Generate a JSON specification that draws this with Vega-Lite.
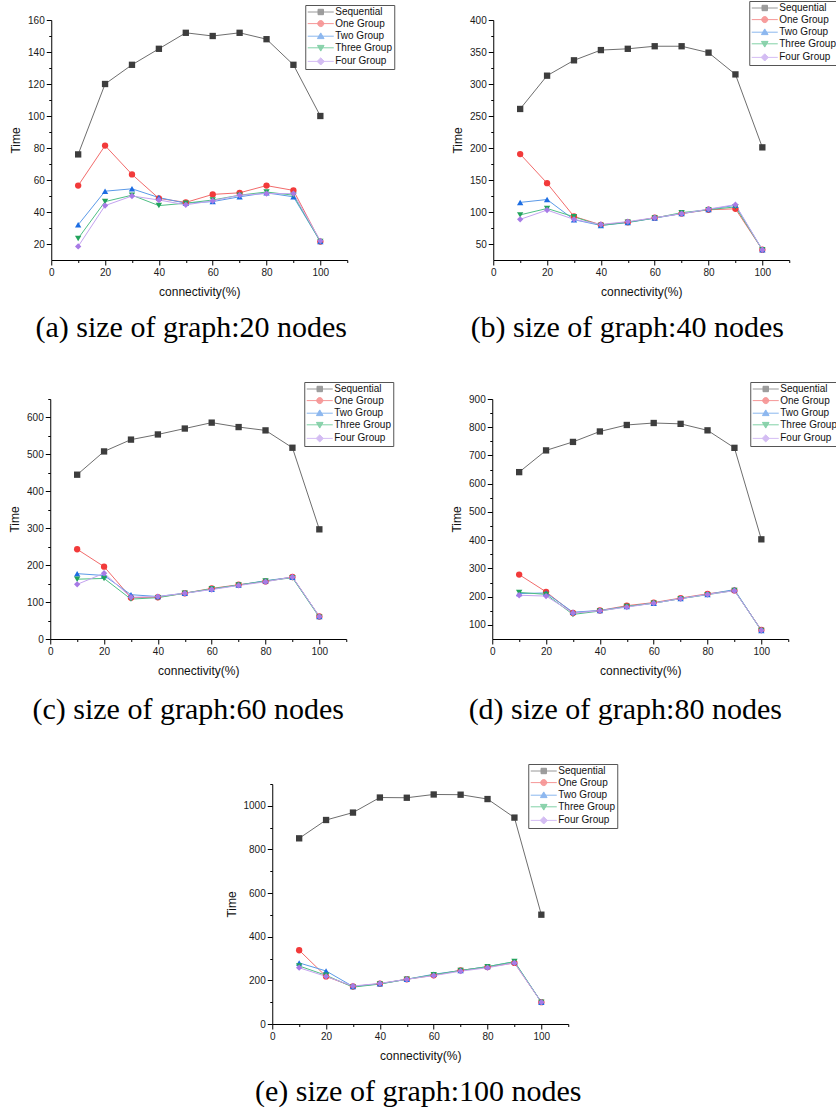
{
  "$schema": "https://vega.github.io/schema/vega-lite/v6.json",
  "padding": {"left": 8, "top": 0, "right": 0, "bottom": 0},
  "center": true,
  "spacing": 38,
  "bounds": "full",
  "datasets": {
    "a": [
      {"c":10,"t":76,"s":"Sequential"},{"c":20,"t":120,"s":"Sequential"},{"c":30,"t":132,"s":"Sequential"},{"c":40,"t":142,"s":"Sequential"},{"c":50,"t":152,"s":"Sequential"},{"c":60,"t":150,"s":"Sequential"},{"c":70,"t":152,"s":"Sequential"},{"c":80,"t":148,"s":"Sequential"},{"c":90,"t":132,"s":"Sequential"},{"c":100,"t":100,"s":"Sequential"},
      {"c":10,"t":56.5,"s":"One Group"},{"c":20,"t":81.5,"s":"One Group"},{"c":30,"t":63.5,"s":"One Group"},{"c":40,"t":48.5,"s":"One Group"},{"c":50,"t":46,"s":"One Group"},{"c":60,"t":51,"s":"One Group"},{"c":70,"t":52,"s":"One Group"},{"c":80,"t":56.5,"s":"One Group"},{"c":90,"t":53.5,"s":"One Group"},{"c":100,"t":21.5,"s":"One Group"},
      {"c":10,"t":32,"s":"Two Group"},{"c":20,"t":53,"s":"Two Group"},{"c":30,"t":54.5,"s":"Two Group"},{"c":40,"t":49,"s":"Two Group"},{"c":50,"t":45.5,"s":"Two Group"},{"c":60,"t":46.5,"s":"Two Group"},{"c":70,"t":49.5,"s":"Two Group"},{"c":80,"t":52,"s":"Two Group"},{"c":90,"t":49.5,"s":"Two Group"},{"c":100,"t":21.5,"s":"Two Group"},
      {"c":10,"t":23.5,"s":"Three Group"},{"c":20,"t":46.5,"s":"Three Group"},{"c":30,"t":50.5,"s":"Three Group"},{"c":40,"t":44,"s":"Three Group"},{"c":50,"t":45.5,"s":"Three Group"},{"c":60,"t":47.5,"s":"Three Group"},{"c":70,"t":50.5,"s":"Three Group"},{"c":80,"t":52.5,"s":"Three Group"},{"c":90,"t":50.5,"s":"Three Group"},{"c":100,"t":21.5,"s":"Three Group"},
      {"c":10,"t":18.5,"s":"Four Group"},{"c":20,"t":44,"s":"Four Group"},{"c":30,"t":50,"s":"Four Group"},{"c":40,"t":47.5,"s":"Four Group"},{"c":50,"t":44.5,"s":"Four Group"},{"c":60,"t":47,"s":"Four Group"},{"c":70,"t":50.5,"s":"Four Group"},{"c":80,"t":51.5,"s":"Four Group"},{"c":90,"t":51.5,"s":"Four Group"},{"c":100,"t":22,"s":"Four Group"}
    ],
    "b": [
      {"c":10,"t":261,"s":"Sequential"},{"c":20,"t":313,"s":"Sequential"},{"c":30,"t":337,"s":"Sequential"},{"c":40,"t":353,"s":"Sequential"},{"c":50,"t":355,"s":"Sequential"},{"c":60,"t":359,"s":"Sequential"},{"c":70,"t":359,"s":"Sequential"},{"c":80,"t":349,"s":"Sequential"},{"c":90,"t":315,"s":"Sequential"},{"c":100,"t":201,"s":"Sequential"},
      {"c":10,"t":190.5,"s":"One Group"},{"c":20,"t":145,"s":"One Group"},{"c":30,"t":93,"s":"One Group"},{"c":40,"t":80,"s":"One Group"},{"c":50,"t":84,"s":"One Group"},{"c":60,"t":91,"s":"One Group"},{"c":70,"t":97.5,"s":"One Group"},{"c":80,"t":103.5,"s":"One Group"},{"c":90,"t":105,"s":"One Group"},{"c":100,"t":41,"s":"One Group"},
      {"c":10,"t":115,"s":"Two Group"},{"c":20,"t":119.5,"s":"Two Group"},{"c":30,"t":88,"s":"Two Group"},{"c":40,"t":79,"s":"Two Group"},{"c":50,"t":83.5,"s":"Two Group"},{"c":60,"t":90.5,"s":"Two Group"},{"c":70,"t":97.5,"s":"Two Group"},{"c":80,"t":104,"s":"Two Group"},{"c":90,"t":110.5,"s":"Two Group"},{"c":100,"t":41,"s":"Two Group"},
      {"c":10,"t":95.5,"s":"Three Group"},{"c":20,"t":105.5,"s":"Three Group"},{"c":30,"t":92.5,"s":"Three Group"},{"c":40,"t":79,"s":"Three Group"},{"c":50,"t":84,"s":"Three Group"},{"c":60,"t":90.5,"s":"Three Group"},{"c":70,"t":99,"s":"Three Group"},{"c":80,"t":103.5,"s":"Three Group"},{"c":90,"t":108,"s":"Three Group"},{"c":100,"t":41,"s":"Three Group"},
      {"c":10,"t":88.5,"s":"Four Group"},{"c":20,"t":103,"s":"Four Group"},{"c":30,"t":88.5,"s":"Four Group"},{"c":40,"t":80.5,"s":"Four Group"},{"c":50,"t":85,"s":"Four Group"},{"c":60,"t":91,"s":"Four Group"},{"c":70,"t":97.5,"s":"Four Group"},{"c":80,"t":104.5,"s":"Four Group"},{"c":90,"t":111.5,"s":"Four Group"},{"c":100,"t":41,"s":"Four Group"}
    ],
    "c": [
      {"c":10,"t":445,"s":"Sequential"},{"c":20,"t":508,"s":"Sequential"},{"c":30,"t":540,"s":"Sequential"},{"c":40,"t":554,"s":"Sequential"},{"c":50,"t":570,"s":"Sequential"},{"c":60,"t":586,"s":"Sequential"},{"c":70,"t":574,"s":"Sequential"},{"c":80,"t":565,"s":"Sequential"},{"c":90,"t":518,"s":"Sequential"},{"c":100,"t":297,"s":"Sequential"},
      {"c":10,"t":243,"s":"One Group"},{"c":20,"t":196,"s":"One Group"},{"c":30,"t":112,"s":"One Group"},{"c":40,"t":113,"s":"One Group"},{"c":50,"t":124,"s":"One Group"},{"c":60,"t":137,"s":"One Group"},{"c":70,"t":147,"s":"One Group"},{"c":80,"t":156,"s":"One Group"},{"c":90,"t":168,"s":"One Group"},{"c":100,"t":61,"s":"One Group"},
      {"c":10,"t":177,"s":"Two Group"},{"c":20,"t":172,"s":"Two Group"},{"c":30,"t":120,"s":"Two Group"},{"c":40,"t":115,"s":"Two Group"},{"c":50,"t":124,"s":"Two Group"},{"c":60,"t":135,"s":"Two Group"},{"c":70,"t":146,"s":"Two Group"},{"c":80,"t":158,"s":"Two Group"},{"c":90,"t":167,"s":"Two Group"},{"c":100,"t":61,"s":"Two Group"},
      {"c":10,"t":162,"s":"Three Group"},{"c":20,"t":164,"s":"Three Group"},{"c":30,"t":108,"s":"Three Group"},{"c":40,"t":112,"s":"Three Group"},{"c":50,"t":124,"s":"Three Group"},{"c":60,"t":136,"s":"Three Group"},{"c":70,"t":146,"s":"Three Group"},{"c":80,"t":157,"s":"Three Group"},{"c":90,"t":166,"s":"Three Group"},{"c":100,"t":59,"s":"Three Group"},
      {"c":10,"t":148,"s":"Four Group"},{"c":20,"t":178,"s":"Four Group"},{"c":30,"t":113,"s":"Four Group"},{"c":40,"t":115,"s":"Four Group"},{"c":50,"t":124,"s":"Four Group"},{"c":60,"t":134,"s":"Four Group"},{"c":70,"t":145,"s":"Four Group"},{"c":80,"t":155,"s":"Four Group"},{"c":90,"t":168,"s":"Four Group"},{"c":100,"t":61,"s":"Four Group"}
    ],
    "d": [
      {"c":10,"t":641,"s":"Sequential"},{"c":20,"t":718,"s":"Sequential"},{"c":30,"t":748,"s":"Sequential"},{"c":40,"t":785,"s":"Sequential"},{"c":50,"t":808,"s":"Sequential"},{"c":60,"t":815,"s":"Sequential"},{"c":70,"t":812,"s":"Sequential"},{"c":80,"t":789,"s":"Sequential"},{"c":90,"t":727,"s":"Sequential"},{"c":100,"t":403,"s":"Sequential"},
      {"c":10,"t":278,"s":"One Group"},{"c":20,"t":217,"s":"One Group"},{"c":30,"t":142,"s":"One Group"},{"c":40,"t":151,"s":"One Group"},{"c":50,"t":168,"s":"One Group"},{"c":60,"t":179,"s":"One Group"},{"c":70,"t":195,"s":"One Group"},{"c":80,"t":210,"s":"One Group"},{"c":90,"t":222,"s":"One Group"},{"c":100,"t":82,"s":"One Group"},
      {"c":10,"t":211,"s":"Two Group"},{"c":20,"t":213,"s":"Two Group"},{"c":30,"t":145,"s":"Two Group"},{"c":40,"t":151,"s":"Two Group"},{"c":50,"t":165,"s":"Two Group"},{"c":60,"t":177,"s":"Two Group"},{"c":70,"t":193,"s":"Two Group"},{"c":80,"t":208,"s":"Two Group"},{"c":90,"t":225,"s":"Two Group"},{"c":100,"t":80,"s":"Two Group"},
      {"c":10,"t":215,"s":"Three Group"},{"c":20,"t":208,"s":"Three Group"},{"c":30,"t":137,"s":"Three Group"},{"c":40,"t":149,"s":"Three Group"},{"c":50,"t":165,"s":"Three Group"},{"c":60,"t":177,"s":"Three Group"},{"c":70,"t":193,"s":"Three Group"},{"c":80,"t":207,"s":"Three Group"},{"c":90,"t":222,"s":"Three Group"},{"c":100,"t":80,"s":"Three Group"},
      {"c":10,"t":205,"s":"Four Group"},{"c":20,"t":202,"s":"Four Group"},{"c":30,"t":142,"s":"Four Group"},{"c":40,"t":150,"s":"Four Group"},{"c":50,"t":163,"s":"Four Group"},{"c":60,"t":177,"s":"Four Group"},{"c":70,"t":193,"s":"Four Group"},{"c":80,"t":208,"s":"Four Group"},{"c":90,"t":221,"s":"Four Group"},{"c":100,"t":81,"s":"Four Group"}
    ],
    "e": [
      {"c":10,"t":851,"s":"Sequential"},{"c":20,"t":935,"s":"Sequential"},{"c":30,"t":969,"s":"Sequential"},{"c":40,"t":1038,"s":"Sequential"},{"c":50,"t":1037,"s":"Sequential"},{"c":60,"t":1052,"s":"Sequential"},{"c":70,"t":1051,"s":"Sequential"},{"c":80,"t":1031,"s":"Sequential"},{"c":90,"t":946,"s":"Sequential"},{"c":100,"t":501,"s":"Sequential"},
      {"c":10,"t":338,"s":"One Group"},{"c":20,"t":218,"s":"One Group"},{"c":30,"t":172,"s":"One Group"},{"c":40,"t":185,"s":"One Group"},{"c":50,"t":205,"s":"One Group"},{"c":60,"t":223,"s":"One Group"},{"c":70,"t":246,"s":"One Group"},{"c":80,"t":261,"s":"One Group"},{"c":90,"t":280,"s":"One Group"},{"c":100,"t":100,"s":"One Group"},
      {"c":10,"t":280,"s":"Two Group"},{"c":20,"t":243,"s":"Two Group"},{"c":30,"t":172,"s":"Two Group"},{"c":40,"t":184,"s":"Two Group"},{"c":50,"t":205,"s":"Two Group"},{"c":60,"t":228,"s":"Two Group"},{"c":70,"t":245,"s":"Two Group"},{"c":80,"t":263,"s":"Two Group"},{"c":90,"t":285,"s":"Two Group"},{"c":100,"t":100,"s":"Two Group"},
      {"c":10,"t":266,"s":"Three Group"},{"c":20,"t":223,"s":"Three Group"},{"c":30,"t":169,"s":"Three Group"},{"c":40,"t":183,"s":"Three Group"},{"c":50,"t":205,"s":"Three Group"},{"c":60,"t":226,"s":"Three Group"},{"c":70,"t":245,"s":"Three Group"},{"c":80,"t":263,"s":"Three Group"},{"c":90,"t":286,"s":"Three Group"},{"c":100,"t":100,"s":"Three Group"},
      {"c":10,"t":258,"s":"Four Group"},{"c":20,"t":218,"s":"Four Group"},{"c":30,"t":174,"s":"Four Group"},{"c":40,"t":186,"s":"Four Group"},{"c":50,"t":205,"s":"Four Group"},{"c":60,"t":222,"s":"Four Group"},{"c":70,"t":242,"s":"Four Group"},{"c":80,"t":258,"s":"Four Group"},{"c":90,"t":280,"s":"Four Group"},{"c":100,"t":100,"s":"Four Group"}
    ]
  },
  "vconcat": [
    {
      "spacing": 146,
      "bounds": "flush",
      "hconcat": [
        {
          "width": 296, "height": 240,
          "data": {"name": "a"},
          "title": {"text": "(a) size of graph:20 nodes", "orient": "bottom", "anchor": "middle", "frame": "group", "dx": -8, "offset": 16},
          "encoding": {
            "x": {"field": "c", "type": "quantitative", "scale": {"domain": [0, 110], "nice": false, "zero": false},
                  "axis": {"title": "connectivity(%)", "values": [0,10,20,30,40,50,60,70,80,90,100,110], "labelExpr": "datum.value % 20 ? '' : datum.label", "tickSize": {"condition": {"test": "datum.value % 20", "value": 2.5}, "value": 5}}},
            "y": {"field": "t", "type": "quantitative", "scale": {"domain": [10, 160], "nice": false, "zero": false},
                  "axis": {"title": "Time", "format": "d", "values": [20,30,40,50,60,70,80,90,100,110,120,130,140,150,160], "labelExpr": "datum.value % 20 ? '' : datum.label", "tickSize": {"condition": {"test": "datum.value % 20", "value": 2.5}, "value": 5}}}
          },
          "layer": [
            {"mark": {"type": "line", "strokeWidth": 1}, "encoding": {"color": {"field": "s", "type": "nominal", "scale": {"domain": ["Sequential","One Group","Two Group","Three Group","Four Group"], "range": ["#6e6e6e","#f26b6b","#5b9ae8","#4fbf84","#c4a3f0"]}, "legend": null}}},
            {"mark": {"type": "point", "filled": true, "size": 40, "opacity": 1}, "encoding": {
              "color": {"field": "s", "type": "nominal", "scale": {"domain": ["Sequential","One Group","Two Group","Three Group","Four Group"], "range": ["#3d3d3d","#f23a3a","#1c6de3","#22a35c","#a77be6"]}, "legend": null},
              "shape": {"field": "s", "type": "nominal", "scale": {"domain": ["Sequential","One Group","Two Group","Three Group","Four Group"], "range": ["square","circle","triangle-up","triangle-down","diamond"]}, "legend": null}}},
            {"transform": [{"filter": {"field": "c", "lt": 0}}], "mark": {"type": "point", "filled": true, "size": 36, "strokeWidth": 1}, "encoding": {
              "fill": {"field": "s", "type": "nominal", "scale": {"domain": ["Sequential","One Group","Two Group","Three Group","Four Group"], "range": ["#3d3d3d","#f23a3a","#1c6de3","#22a35c","#a77be6"]}, "legend": {"orient": "none", "legendX": 254, "legendY": -15}},
              "stroke": {"field": "s", "type": "nominal", "scale": {"domain": ["Sequential","One Group","Two Group","Three Group","Four Group"], "range": ["#6e6e6e","#f26b6b","#5b9ae8","#4fbf84","#c4a3f0"]}, "legend": {"orient": "none", "legendX": 254, "legendY": -15}},
              "shape": {"field": "s", "type": "nominal", "scale": {"domain": ["Sequential","One Group","Two Group","Three Group","Four Group"], "range": ["M-1.5,0H7.17M1.93,-0.9H3.73V0.9H1.93Z","M-1.5,0H7.17M1.83,0A1,1,0,1,0,3.83,0A1,1,0,1,0,1.83,0Z","M-1.5,0H7.17M2.83,-1.1L3.93,0.8H1.73Z","M-1.5,0H7.17M2.83,1.1L3.93,-0.8H1.73Z","M-1.5,0H7.17M2.83,-1.2L4.03,0L2.83,1.2L1.63,0Z"]}, "legend": {"orient": "none", "legendX": 254, "legendY": -15}}}}
          ],
          "resolve": {"scale": {"color": "independent", "shape": "independent", "fill": "independent", "stroke": "independent"}}
        },
        {
          "width": 296, "height": 240,
          "data": {"name": "b"},
          "title": {"text": "(b) size of graph:40 nodes", "orient": "bottom", "anchor": "middle", "frame": "group", "dx": -14, "offset": 16},
          "encoding": {
            "x": {"field": "c", "type": "quantitative", "scale": {"domain": [0, 110], "nice": false, "zero": false},
                  "axis": {"title": "connectivity(%)", "values": [0,10,20,30,40,50,60,70,80,90,100,110], "labelExpr": "datum.value % 20 ? '' : datum.label", "tickSize": {"condition": {"test": "datum.value % 20", "value": 2.5}, "value": 5}}},
            "y": {"field": "t", "type": "quantitative", "scale": {"domain": [25, 400], "nice": false, "zero": false},
                  "axis": {"title": "Time", "format": "d", "values": [50,75,100,125,150,175,200,225,250,275,300,325,350,375,400], "labelExpr": "datum.value % 50 ? '' : datum.label", "tickSize": {"condition": {"test": "datum.value % 50", "value": 2.5}, "value": 5}}}
          },
          "layer": [
            {"mark": {"type": "line", "strokeWidth": 1}, "encoding": {"color": {"field": "s", "type": "nominal", "scale": {"domain": ["Sequential","One Group","Two Group","Three Group","Four Group"], "range": ["#6e6e6e","#f26b6b","#5b9ae8","#4fbf84","#c4a3f0"]}, "legend": null}}},
            {"mark": {"type": "point", "filled": true, "size": 40, "opacity": 1}, "encoding": {
              "color": {"field": "s", "type": "nominal", "scale": {"domain": ["Sequential","One Group","Two Group","Three Group","Four Group"], "range": ["#3d3d3d","#f23a3a","#1c6de3","#22a35c","#a77be6"]}, "legend": null},
              "shape": {"field": "s", "type": "nominal", "scale": {"domain": ["Sequential","One Group","Two Group","Three Group","Four Group"], "range": ["square","circle","triangle-up","triangle-down","diamond"]}, "legend": null}}},
            {"transform": [{"filter": {"field": "c", "lt": 0}}], "mark": {"type": "point", "filled": true, "size": 36, "strokeWidth": 1}, "encoding": {
              "fill": {"field": "s", "type": "nominal", "scale": {"domain": ["Sequential","One Group","Two Group","Three Group","Four Group"], "range": ["#3d3d3d","#f23a3a","#1c6de3","#22a35c","#a77be6"]}, "legend": {"orient": "none", "legendX": 256, "legendY": -19}},
              "stroke": {"field": "s", "type": "nominal", "scale": {"domain": ["Sequential","One Group","Two Group","Three Group","Four Group"], "range": ["#6e6e6e","#f26b6b","#5b9ae8","#4fbf84","#c4a3f0"]}, "legend": {"orient": "none", "legendX": 256, "legendY": -19}},
              "shape": {"field": "s", "type": "nominal", "scale": {"domain": ["Sequential","One Group","Two Group","Three Group","Four Group"], "range": ["M-1.5,0H7.17M1.93,-0.9H3.73V0.9H1.93Z","M-1.5,0H7.17M1.83,0A1,1,0,1,0,3.83,0A1,1,0,1,0,1.83,0Z","M-1.5,0H7.17M2.83,-1.1L3.93,0.8H1.73Z","M-1.5,0H7.17M2.83,1.1L3.93,-0.8H1.73Z","M-1.5,0H7.17M2.83,-1.2L4.03,0L2.83,1.2L1.63,0Z"]}, "legend": {"orient": "none", "legendX": 256, "legendY": -19}}}}
          ],
          "resolve": {"scale": {"color": "independent", "shape": "independent", "fill": "independent", "stroke": "independent"}}
        }
      ]
    },
    {
      "spacing": 146,
      "bounds": "flush",
      "hconcat": [
        {
          "width": 296, "height": 240,
          "data": {"name": "c"},
          "title": {"text": "(c) size of graph:60 nodes", "orient": "bottom", "anchor": "middle", "frame": "group", "dx": -10, "offset": 19},
          "encoding": {
            "x": {"field": "c", "type": "quantitative", "scale": {"domain": [0, 110], "nice": false, "zero": false},
                  "axis": {"title": "connectivity(%)", "values": [0,10,20,30,40,50,60,70,80,90,100,110], "labelExpr": "datum.value % 20 ? '' : datum.label", "tickSize": {"condition": {"test": "datum.value % 20", "value": 2.5}, "value": 5}}},
            "y": {"field": "t", "type": "quantitative", "scale": {"domain": [0, 650], "nice": false, "zero": false},
                  "axis": {"title": "Time", "format": "d", "values": [0,50,100,150,200,250,300,350,400,450,500,550,600,650], "labelExpr": "datum.value % 100 ? '' : datum.label", "tickSize": {"condition": {"test": "datum.value % 100", "value": 2.5}, "value": 5}}}
          },
          "layer": [
            {"mark": {"type": "line", "strokeWidth": 1}, "encoding": {"color": {"field": "s", "type": "nominal", "scale": {"domain": ["Sequential","One Group","Two Group","Three Group","Four Group"], "range": ["#6e6e6e","#f26b6b","#5b9ae8","#4fbf84","#c4a3f0"]}, "legend": null}}},
            {"mark": {"type": "point", "filled": true, "size": 40, "opacity": 1}, "encoding": {
              "color": {"field": "s", "type": "nominal", "scale": {"domain": ["Sequential","One Group","Two Group","Three Group","Four Group"], "range": ["#3d3d3d","#f23a3a","#1c6de3","#22a35c","#a77be6"]}, "legend": null},
              "shape": {"field": "s", "type": "nominal", "scale": {"domain": ["Sequential","One Group","Two Group","Three Group","Four Group"], "range": ["square","circle","triangle-up","triangle-down","diamond"]}, "legend": null}}},
            {"transform": [{"filter": {"field": "c", "lt": 0}}], "mark": {"type": "point", "filled": true, "size": 36, "strokeWidth": 1}, "encoding": {
              "fill": {"field": "s", "type": "nominal", "scale": {"domain": ["Sequential","One Group","Two Group","Three Group","Four Group"], "range": ["#3d3d3d","#f23a3a","#1c6de3","#22a35c","#a77be6"]}, "legend": {"orient": "none", "legendX": 254, "legendY": -17}},
              "stroke": {"field": "s", "type": "nominal", "scale": {"domain": ["Sequential","One Group","Two Group","Three Group","Four Group"], "range": ["#6e6e6e","#f26b6b","#5b9ae8","#4fbf84","#c4a3f0"]}, "legend": {"orient": "none", "legendX": 254, "legendY": -17}},
              "shape": {"field": "s", "type": "nominal", "scale": {"domain": ["Sequential","One Group","Two Group","Three Group","Four Group"], "range": ["M-1.5,0H7.17M1.93,-0.9H3.73V0.9H1.93Z","M-1.5,0H7.17M1.83,0A1,1,0,1,0,3.83,0A1,1,0,1,0,1.83,0Z","M-1.5,0H7.17M2.83,-1.1L3.93,0.8H1.73Z","M-1.5,0H7.17M2.83,1.1L3.93,-0.8H1.73Z","M-1.5,0H7.17M2.83,-1.2L4.03,0L2.83,1.2L1.63,0Z"]}, "legend": {"orient": "none", "legendX": 254, "legendY": -17}}}}
          ],
          "resolve": {"scale": {"color": "independent", "shape": "independent", "fill": "independent", "stroke": "independent"}}
        },
        {
          "width": 296, "height": 240,
          "data": {"name": "d"},
          "title": {"text": "(d) size of graph:80 nodes", "orient": "bottom", "anchor": "middle", "frame": "group", "dx": -15, "offset": 19},
          "encoding": {
            "x": {"field": "c", "type": "quantitative", "scale": {"domain": [0, 110], "nice": false, "zero": false},
                  "axis": {"title": "connectivity(%)", "values": [0,10,20,30,40,50,60,70,80,90,100,110], "labelExpr": "datum.value % 20 ? '' : datum.label", "tickSize": {"condition": {"test": "datum.value % 20", "value": 2.5}, "value": 5}}},
            "y": {"field": "t", "type": "quantitative", "scale": {"domain": [50, 900], "nice": false, "zero": false},
                  "axis": {"title": "Time", "format": "d", "values": [100,150,200,250,300,350,400,450,500,550,600,650,700,750,800,850,900], "labelExpr": "datum.value % 100 ? '' : datum.label", "tickSize": {"condition": {"test": "datum.value % 100", "value": 2.5}, "value": 5}}}
          },
          "layer": [
            {"mark": {"type": "line", "strokeWidth": 1}, "encoding": {"color": {"field": "s", "type": "nominal", "scale": {"domain": ["Sequential","One Group","Two Group","Three Group","Four Group"], "range": ["#6e6e6e","#f26b6b","#5b9ae8","#4fbf84","#c4a3f0"]}, "legend": null}}},
            {"mark": {"type": "point", "filled": true, "size": 40, "opacity": 1}, "encoding": {
              "color": {"field": "s", "type": "nominal", "scale": {"domain": ["Sequential","One Group","Two Group","Three Group","Four Group"], "range": ["#3d3d3d","#f23a3a","#1c6de3","#22a35c","#a77be6"]}, "legend": null},
              "shape": {"field": "s", "type": "nominal", "scale": {"domain": ["Sequential","One Group","Two Group","Three Group","Four Group"], "range": ["square","circle","triangle-up","triangle-down","diamond"]}, "legend": null}}},
            {"transform": [{"filter": {"field": "c", "lt": 0}}], "mark": {"type": "point", "filled": true, "size": 36, "strokeWidth": 1}, "encoding": {
              "fill": {"field": "s", "type": "nominal", "scale": {"domain": ["Sequential","One Group","Two Group","Three Group","Four Group"], "range": ["#3d3d3d","#f23a3a","#1c6de3","#22a35c","#a77be6"]}, "legend": {"orient": "none", "legendX": 258, "legendY": -17}},
              "stroke": {"field": "s", "type": "nominal", "scale": {"domain": ["Sequential","One Group","Two Group","Three Group","Four Group"], "range": ["#6e6e6e","#f26b6b","#5b9ae8","#4fbf84","#c4a3f0"]}, "legend": {"orient": "none", "legendX": 258, "legendY": -17}},
              "shape": {"field": "s", "type": "nominal", "scale": {"domain": ["Sequential","One Group","Two Group","Three Group","Four Group"], "range": ["M-1.5,0H7.17M1.93,-0.9H3.73V0.9H1.93Z","M-1.5,0H7.17M1.83,0A1,1,0,1,0,3.83,0A1,1,0,1,0,1.83,0Z","M-1.5,0H7.17M2.83,-1.1L3.93,0.8H1.73Z","M-1.5,0H7.17M2.83,1.1L3.93,-0.8H1.73Z","M-1.5,0H7.17M2.83,-1.2L4.03,0L2.83,1.2L1.63,0Z"]}, "legend": {"orient": "none", "legendX": 258, "legendY": -17}}}}
          ],
          "resolve": {"scale": {"color": "independent", "shape": "independent", "fill": "independent", "stroke": "independent"}}
        }
      ]
    },
    {
      "width": 296, "height": 240,
      "data": {"name": "e"},
      "title": {"text": "(e) size of graph:100 nodes", "orient": "bottom", "anchor": "middle", "frame": "group", "dx": -2, "offset": 16},
      "encoding": {
        "x": {"field": "c", "type": "quantitative", "scale": {"domain": [0, 110], "nice": false, "zero": false},
              "axis": {"title": "connectivity(%)", "values": [0,10,20,30,40,50,60,70,80,90,100,110], "labelExpr": "datum.value % 20 ? '' : datum.label", "tickSize": {"condition": {"test": "datum.value % 20", "value": 2.5}, "value": 5}}},
        "y": {"field": "t", "type": "quantitative", "scale": {"domain": [0, 1100], "nice": false, "zero": false},
              "axis": {"title": "Time", "format": "d", "values": [0,100,200,300,400,500,600,700,800,900,1000,1100], "labelExpr": "datum.value % 200 ? '' : datum.label", "tickSize": {"condition": {"test": "datum.value % 200", "value": 2.5}, "value": 5}}}
      },
      "layer": [
        {"mark": {"type": "line", "strokeWidth": 1}, "encoding": {"color": {"field": "s", "type": "nominal", "scale": {"domain": ["Sequential","One Group","Two Group","Three Group","Four Group"], "range": ["#6e6e6e","#f26b6b","#5b9ae8","#4fbf84","#c4a3f0"]}, "legend": null}}},
        {"mark": {"type": "point", "filled": true, "size": 40, "opacity": 1}, "encoding": {
          "color": {"field": "s", "type": "nominal", "scale": {"domain": ["Sequential","One Group","Two Group","Three Group","Four Group"], "range": ["#3d3d3d","#f23a3a","#1c6de3","#22a35c","#a77be6"]}, "legend": null},
          "shape": {"field": "s", "type": "nominal", "scale": {"domain": ["Sequential","One Group","Two Group","Three Group","Four Group"], "range": ["square","circle","triangle-up","triangle-down","diamond"]}, "legend": null}}},
        {"transform": [{"filter": {"field": "c", "lt": 0}}], "mark": {"type": "point", "filled": true, "size": 36, "strokeWidth": 1}, "encoding": {
          "fill": {"field": "s", "type": "nominal", "scale": {"domain": ["Sequential","One Group","Two Group","Three Group","Four Group"], "range": ["#3d3d3d","#f23a3a","#1c6de3","#22a35c","#a77be6"]}, "legend": {"orient": "none", "legendX": 256, "legendY": -20}},
          "stroke": {"field": "s", "type": "nominal", "scale": {"domain": ["Sequential","One Group","Two Group","Three Group","Four Group"], "range": ["#6e6e6e","#f26b6b","#5b9ae8","#4fbf84","#c4a3f0"]}, "legend": {"orient": "none", "legendX": 256, "legendY": -20}},
          "shape": {"field": "s", "type": "nominal", "scale": {"domain": ["Sequential","One Group","Two Group","Three Group","Four Group"], "range": ["M-1.5,0H7.17M1.93,-0.9H3.73V0.9H1.93Z","M-1.5,0H7.17M1.83,0A1,1,0,1,0,3.83,0A1,1,0,1,0,1.83,0Z","M-1.5,0H7.17M2.83,-1.1L3.93,0.8H1.73Z","M-1.5,0H7.17M2.83,1.1L3.93,-0.8H1.73Z","M-1.5,0H7.17M2.83,-1.2L4.03,0L2.83,1.2L1.63,0Z"]}, "legend": {"orient": "none", "legendX": 256, "legendY": -20}}}}
      ],
      "resolve": {"scale": {"color": "independent", "shape": "independent", "fill": "independent", "stroke": "independent"}}
    }
  ],
  "config": {
    "view": {"stroke": null},
    "font": "Liberation Sans",
    "axis": {"grid": false, "domainColor": "#000", "domainWidth": 1, "tickColor": "#000", "tickWidth": 1, "labelFont": "Liberation Sans", "labelFontSize": 10, "labelColor": "#1a1a1a", "labelPadding": 2, "labelFlush": false, "labelOverlap": false, "titleFont": "Liberation Sans", "titleFontSize": 12, "titleFontWeight": "normal", "titleColor": "#111"},
    "axisX": {"titlePadding": 9},
    "axisY": {"titlePadding": 5},
    "legend": {"title": null, "symbolSize": 36, "symbolStrokeWidth": 1, "symbolOffset": 0, "labelOffset": 18, "rowPadding": 1.6, "padding": 2, "strokeColor": "#555", "fillColor": "#fff", "labelFont": "Liberation Sans", "labelFontSize": 10, "labelColor": "#111", "labelLimit": 200},
    "title": {"font": "Liberation Serif", "fontSize": 30, "fontWeight": "normal", "color": "#000"}
  }
}
